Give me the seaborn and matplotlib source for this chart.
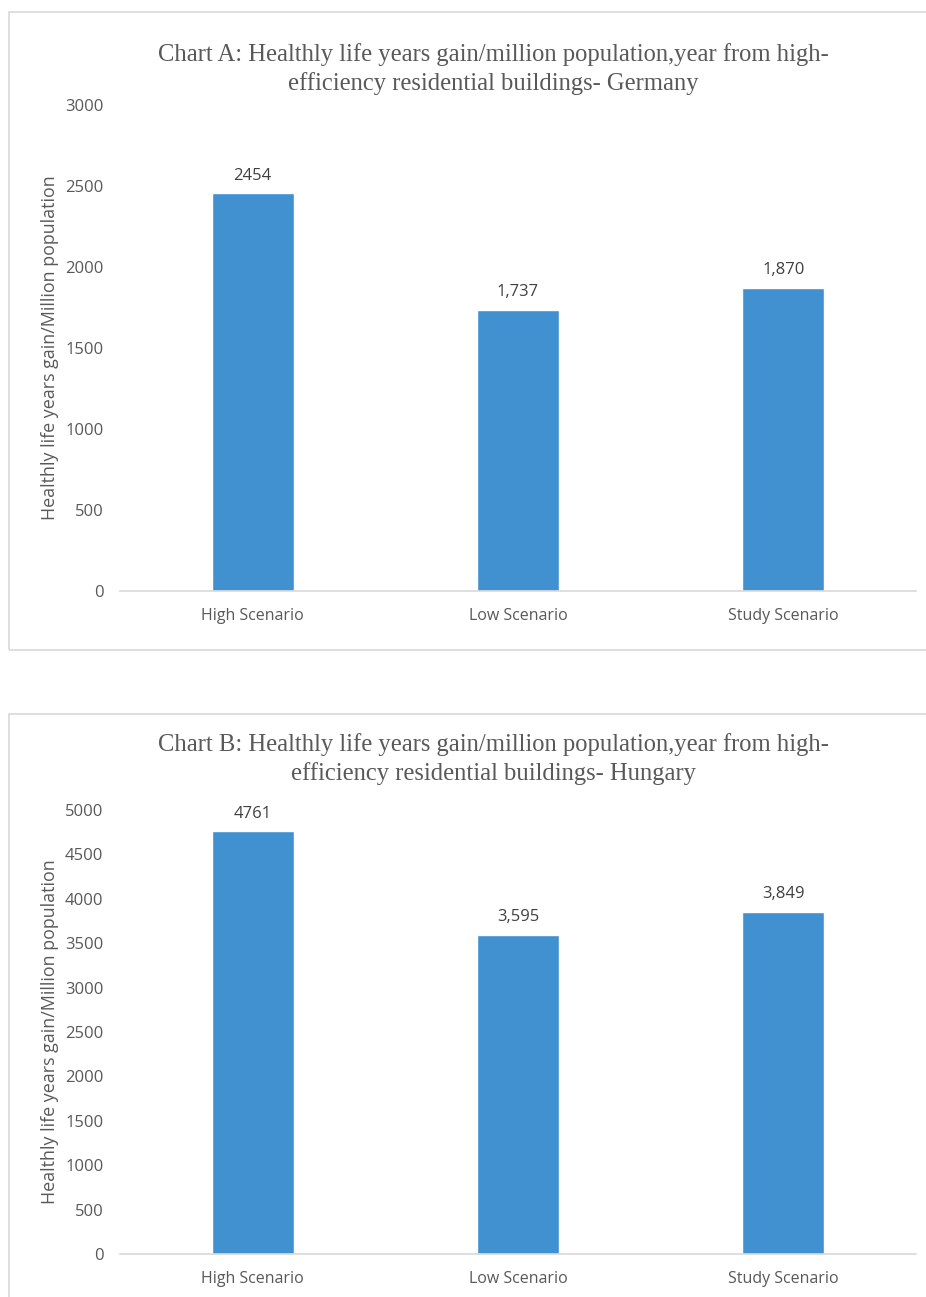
import matplotlib
matplotlib.use("Agg")
import matplotlib.pyplot as plt
import seaborn as sns
import pandas as pd
from matplotlib.patches import Rectangle

sns.set_theme(style="white")
plt.rcParams["font.family"] = ["Open Sans", "DejaVu Sans"]

scenarios = ["High Scenario", "Low Scenario", "Study Scenario"]
germany_values = [2454, 1737, 1870]
germany_labels = ["2454", "1,737", "1,870"]
hungary_values = [4761, 3595, 3849]
hungary_labels = ["4761", "3,595", "3,849"]

title_a = ("Chart A: Healthly life years gain/million population,year from high-\n"
           "efficiency residential buildings- Germany")
title_b = ("Chart B: Healthly life years gain/million population,year from high-\n"
           "efficiency residential buildings- Hungary")
ylabel = "Healthly life years gain/Million population"

BAR = "#4191D0"
TXT = "#595959"
GRID = "#D9D9D9"

W, H = 926, 1297
fig = plt.figure(figsize=(W / 100, H / 100), dpi=100)
fig.patch.set_facecolor("white")


def px_axes(left, top, right, bottom):
    return fig.add_axes([left / W, 1 - bottom / H, (right - left) / W, (bottom - top) / H])


# panel frames
fig.add_artist(Rectangle((9 / W, 1 - 650 / H), (W + 5 - 9) / W, (650 - 12) / H,
                         transform=fig.transFigure, fill=False, edgecolor=GRID, lw=1.2))
fig.add_artist(Rectangle((9 / W, -0.01), (W + 5 - 9) / W, (1 - 714 / H) + 0.01,
                         transform=fig.transFigure, fill=False, edgecolor=GRID, lw=1.2))


def draw(ax, values, labels, ymax, step, title, title_y):
    df = pd.DataFrame({"scenario": scenarios, "value": values})
    sns.barplot(data=df, x="scenario", y="value", color=BAR, saturation=1,
                width=0.31, ax=ax)
    ax.set_ylim(0, ymax)
    ax.set_xlim(-0.5, 2.5)
    ax.set_yticks(range(0, ymax + 1, step))
    ax.tick_params(axis="both", length=0, colors=TXT)
    ax.tick_params(axis="y", pad=12, labelsize=12)
    ax.tick_params(axis="x", pad=12, labelsize=11.5)
    for s in ["top", "right", "left"]:
        ax.spines[s].set_visible(False)
    ax.spines["bottom"].set_color(GRID)
    ax.spines["bottom"].set_linewidth(1.2)
    ax.set_xlabel("")
    ax.set_ylabel(ylabel, color=TXT, fontsize=12.9)
    ax.yaxis.set_label_coords(-0.077, 0.5)
    for i, (v, lab) in enumerate(zip(values, labels)):
        ax.annotate(lab, (i, v), xytext=(0, 7), textcoords="offset points",
                    ha="center", va="bottom", fontsize=12, color="#404040")
    fig.text(0.533, title_y, title, ha="center", va="center", fontsize=17.7,
             family="Liberation Serif", color=TXT, linespacing=1.3)


ax_a = px_axes(120, 105, 916, 591)
draw(ax_a, germany_values, germany_labels, 3000, 500, title_a, 1 - 69 / H)

ax_b = px_axes(120, 810, 916, 1254)
draw(ax_b, hungary_values, hungary_labels, 5000, 500, title_b, 1 - 759 / H)

fig.savefig("out.png", dpi=100, facecolor="white")
